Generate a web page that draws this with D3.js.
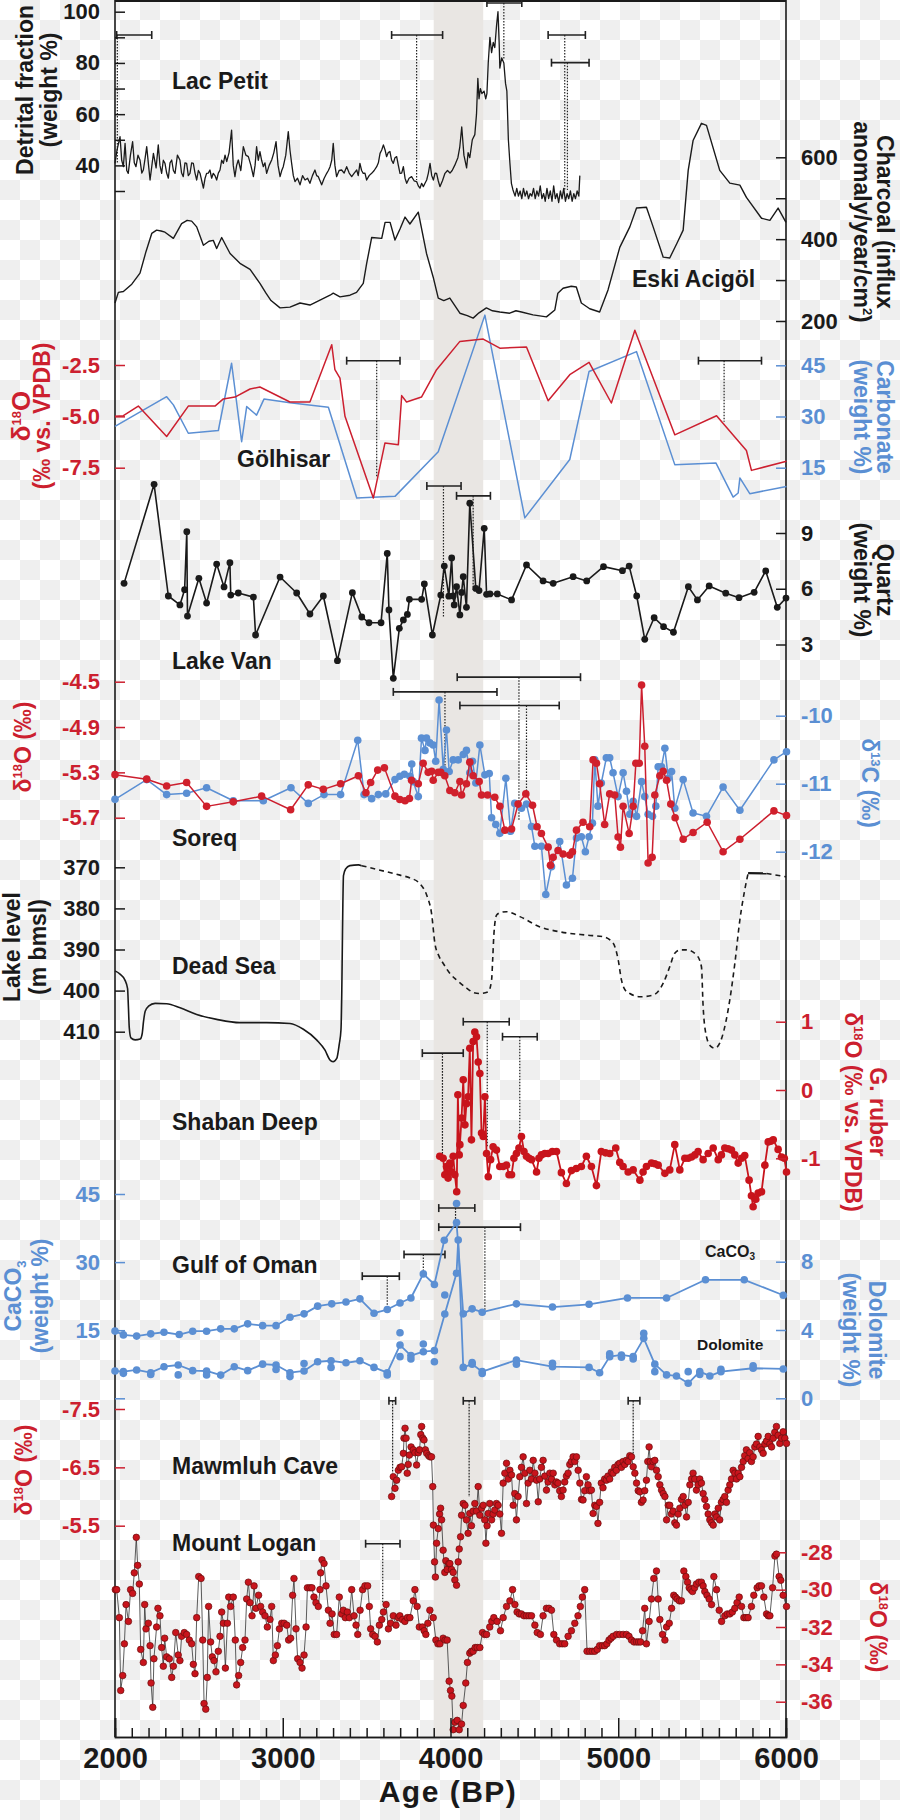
<!DOCTYPE html>
<html>
<head>
<meta charset="utf-8">
<script src="https://cdn.jsdelivr.net/npm/d3@7"></script>
<style>
body { margin: 0; background: #fff; }
svg { display: block; }
</style>
</head>
<body>
<svg id="chart" width="900" height="1820"></svg>
<script>
var FONT = "'Liberation Sans', Arial, Helvetica, sans-serif";
var RED = "#cc1f2f", BLUE = "#5b8fd3", BLACK = "#1a1a1a";
var DOTRED = "#c8141c";

// ---------- data ----------
var ageDomain = [2000, 6000];
var bandYears = [3900, 4195];
var ageTicks = [2000, 3000, 4000, 5000, 6000];

var lacPetit = [[2000,40.8],[2012,46],[2030,51.2],[2040,42],[2050,39.5],[2060,48.6],[2070,38],[2079,36.9],[2092,44],[2105,49.3],[2115,41],[2125,39.5],[2137,44],[2149,42.1],[2160,37],[2169,38.2],[2180,43],[2189,47.3],[2200,40],[2209,34.3],[2220,40],[2229,44.7],[2245,39],[2258,48],[2268,40],[2278,36.9],[2288,42],[2298,40.8],[2308,37],[2318,35],[2328,41],[2338,42.1],[2348,38],[2358,36.9],[2372,44],[2387,42.1],[2397,37],[2407,35.6],[2417,41],[2427,40.8],[2437,36],[2447,36.9],[2457,41],[2467,40.8],[2477,37],[2487,34.3],[2497,38],[2507,36.9],[2517,34],[2527,31.1],[2537,35],[2546,36.9],[2556,37],[2566,38.2],[2576,35],[2586,36.9],[2596,36],[2606,34.3],[2616,37],[2626,38.2],[2636,42],[2646,40.8],[2656,44],[2666,41.5],[2680,45],[2695,53.8],[2705,40],[2715,35.6],[2725,40],[2735,42.1],[2750,38],[2765,47.3],[2780,44],[2795,43.4],[2810,40],[2825,35.6],[2835,40],[2844,47.3],[2854,42],[2864,45.4],[2874,42],[2884,39.5],[2894,41],[2904,36.9],[2919,40],[2934,42.1],[2947,45],[2960,49.3],[2972,40],[2984,35.6],[2994,38],[3003,39.5],[3018,44],[3033,53.2],[3043,46],[3053,40.8],[3063,36],[3073,33.7],[3088,35],[3103,32.4],[3118,36],[3133,34.3],[3148,35],[3162,33],[3177,36],[3192,38.2],[3202,36],[3212,35.6],[3222,34],[3232,32.4],[3247,35],[3262,36.9],[3272,38],[3282,39.5],[3292,42],[3301,48.6],[3311,40],[3321,35.6],[3336,38],[3351,38.2],[3366,37],[3381,39.5],[3396,37],[3411,35.6],[3426,37],[3441,38.2],[3450,36],[3460,40.8],[3470,38],[3480,36.9],[3490,37],[3500,34.3],[3515,36],[3530,36.9],[3545,38],[3560,39.5],[3570,41],[3580,44.7],[3590,46],[3600,48],[3610,46],[3619,43.4],[3629,45],[3639,45.4],[3649,42],[3659,40.8],[3669,43],[3679,43.4],[3689,40],[3699,36.9],[3709,37],[3719,39.5],[3729,35],[3739,33],[3753,35],[3768,35.6],[3783,34],[3798,33.7],[3808,32],[3818,31.1],[3828,33],[3838,31.7],[3848,33],[3858,34.3],[3868,37],[3878,40.8],[3888,36],[3898,34.3],[3908,37],[3917,36.9],[3927,34],[3937,31.7],[3952,34],[3967,36.9],[3982,38],[3997,37],[4010,38],[4025,40],[4044,43],[4055,47],[4067,55],[4080,44],[4096,39],[4105,45],[4115,43],[4130,50],[4145,52],[4155,60],[4163,74],[4170,66],[4178,70],[4187,68],[4200,69],[4210,66],[4217,68],[4225,80],[4235,90],[4245,84],[4255,88],[4264,86],[4275,95],[4283,100],[4290,88],[4294,78],[4305,82],[4318,80],[4328,72],[4336,69],[4345,50],[4354,41],[4363,33],[4372,30.5],[4385,28],[4395,31],[4405,28],[4415,30],[4425,27],[4435,31],[4445,28],[4455,30],[4465,27],[4475,29],[4485,28],[4495,31],[4505,27],[4515,30],[4525,28],[4535,32],[4545,27],[4555,29],[4565,26],[4575,31],[4585,27],[4595,30],[4605,26],[4615,32],[4625,27],[4635,29],[4645,25.5],[4655,30],[4665,27],[4675,31],[4685,26],[4695,29],[4705,27],[4715,30],[4725,26],[4735,29],[4745,27],[4755,30],[4765,28],[4771,36]];

var eskiAcigol = [[2000,244],[2020,270],[2050,272],[2100,290],[2149,317],[2185,370],[2219,414],[2248,422],[2275,420],[2298,417],[2348,402],[2397,438],[2430,446],[2457,444],[2487,430],[2527,385],[2560,395],[2586,397],[2606,377],[2636,404],[2660,385],[2686,365],[2745,341],[2805,326],[2864,292],[2900,268],[2930,250],[2984,232],[3043,234],[3103,244],[3162,239],[3222,251],[3282,263],[3301,268],[3341,259],[3401,263],[3440,270],[3480,292],[3500,340],[3530,404],[3590,402],[3610,441],[3640,441],[3669,398],[3699,425],[3729,454],[3758,437],[3808,466],[3857,365],[3897,307],[3927,256],[3960,250],[3996,256],[4056,219],[4100,213],[4135,207],[4170,220],[4214,232],[4250,225],[4294,222],[4353,219],[4390,225],[4423,222],[4492,215],[4572,210],[4622,227],[4640,268],[4671,280],[4720,285],[4750,283],[4780,244],[4830,230],[4889,222],[4939,276],[5009,380],[5069,430],[5109,476],[5168,478],[5208,430],[5268,356],[5307,354],[5350,390],[5387,422],[5417,568],[5446,641],[5496,683],[5526,678],[5605,568],[5665,537],[5725,532],[5764,502],[5854,451],[5904,446],[5953,476],[6000,441]];

var golhisarO = [[2000,-5.0],[2050,-4.97],[2139,-4.5],[2308,-5.98],[2437,-4.5],[2596,-4.5],[2646,-4.15],[2715,-4.06],[2805,-3.67],[2864,-3.57],[3043,-4.3],[3162,-4.3],[3292,-1.51],[3311,-2.73],[3341,-3.14],[3371,-5.0],[3540,-8.98],[3609,-6.3],[3689,-6.38],[3709,-3.99],[3738,-4.3],[3827,-4.06],[3917,-2.73],[4056,-1.35],[4195,-1.24],[4294,-1.68],[4453,-1.62],[4582,-4.24],[4711,-2.97],[4826,-2.37],[4959,-4.35],[5099,-0.81],[5337,-5.9],[5586,-4.97],[5764,-6.66],[5794,-7.63],[6003,-7.19]];

var golhisarCarb = [[2000,27.1],[2308,35.8],[2348,33.4],[2437,25.1],[2616,25.9],[2695,45.6],[2755,22.6],[2785,32.9],[2844,30.4],[2888,35.1],[3043,34.0],[3272,32.7],[3441,6.1],[3669,6.6],[3927,19.7],[4205,59.7],[4443,0.3],[4711,17.4],[4826,43.2],[5109,49.0],[5337,15.9],[5582,16.4],[5685,6.4],[5715,7.6],[5725,12],[5784,7.4],[6003,9.5]];

var lakeVan = [[2054,6.29],[2233,11.62],[2318,5.61],[2387,5.13],[2415,5.95],[2428,9.07],[2432,4.53],[2500,6.56],[2546,5.23],[2606,7.33],[2650,6.1],[2685,7.4],[2690,5.66],[2735,5.77],[2825,5.55],[2838,3.51],[2984,6.63],[3083,5.77],[3162,4.64],[3242,5.61],[3326,2.13],[3415,5.79],[3471,4.48],[3514,4.17],[3586,4.17],[3623,7.9],[3633,4.86],[3659,1.18],[3695,3.87],[3719,4.32],[3743,4.62],[3755,5.43],[3828,5.43],[3844,6.26],[3892,3.51],[3942,5.66],[3963,7.22],[3990,5.6],[4007,7.66],[4016,5.61],[4022,5.13],[4036,6.11],[4056,4.59],[4066,5.8],[4076,6.65],[4095,5.0],[4115,10.6],[4151,6.02],[4170,5.9],[4201,9.25],[4215,5.7],[4235,5.72],[4279,5.72],[4364,5.4],[4453,7.28],[4552,6.42],[4612,6.29],[4731,6.65],[4812,6.42],[4912,7.19],[5025,6.97],[5065,7.22],[5110,5.61],[5158,3.28],[5214,4.44],[5270,3.96],[5329,3.66],[5418,6.11],[5472,5.4],[5542,6.15],[5641,5.76],[5720,5.52],[5810,5.81],[5879,6.96],[5948,5.0],[6000,5.5]];

var soreqO = [[2000,-5.32],[2189,-5.36],[2308,-5.42],[2427,-5.39],[2546,-5.6],[2705,-5.56],[2874,-5.51],[3047,-5.63],[3152,-5.41],[3242,-5.45],[3345,-5.4],[3451,-5.33],[3496,-5.48],[3524,-5.39],[3566,-5.28],[3606,-5.26],[3669,-5.51],[3698,-5.54],[3729,-5.55],[3755,-5.53],[3768,-5.37],[3808,-5.4],[3837,-5.22],[3867,-5.3],[3888,-5.29],[3897,-5.37],[3927,-5.3],[3942,-5.3],[3966,-5.33],[3996,-5.46],[4026,-5.48],[4056,-5.38],[4066,-5.5],[4095,-5.4],[4115,-5.21],[4135,-5.33],[4171,-5.38],[4185,-5.5],[4221,-5.5],[4264,-5.52],[4294,-5.6],[4324,-5.81],[4364,-5.8],[4403,-5.58],[4449,-5.49],[4489,-5.59],[4516,-5.78],[4542,-5.84],[4582,-5.96],[4596,-6.12],[4612,-6.05],[4641,-5.99],[4671,-6.02],[4711,-6.03],[4727,-6.0],[4751,-5.81],[4790,-5.74],[4830,-5.78],[4850,-5.19],[4870,-5.22],[4889,-5.4],[4919,-5.76],[4949,-5.49],[4979,-5.5],[4999,-5.87],[5013,-5.96],[5029,-5.6],[5065,-5.84],[5089,-5.6],[5105,-5.22],[5125,-5.22],[5139,-4.53],[5158,-5.07],[5178,-6.1],[5202,-6.05],[5218,-5.5],[5248,-5.33],[5268,-5.29],[5288,-5.37],[5313,-5.58],[5339,-5.7],[5387,-5.89],[5446,-5.83],[5530,-5.74],[5625,-6.0],[5725,-5.89],[5928,-5.64],[6003,-5.68]];

var soreqC = [[2000,-11.23],[2189,-10.94],[2308,-11.16],[2427,-11.14],[2546,-11.06],[2705,-11.25],[2884,-11.25],[3049,-11.06],[3152,-11.29],[3246,-11.16],[3345,-11.16],[3447,-10.36],[3485,-11.16],[3530,-11.22],[3570,-11.16],[3614,-11.15],[3669,-10.94],[3698,-10.89],[3725,-10.86],[3758,-10.89],[3769,-10.71],[3778,-10.97],[3808,-11.19],[3827,-10.33],[3848,-10.51],[3857,-10.33],[3877,-10.4],[3897,-10.43],[3912,-10.67],[3932,-9.77],[3957,-10.79],[3976,-10.21],[3992,-10.82],[4016,-10.65],[4046,-10.65],[4076,-10.57],[4095,-10.51],[4115,-10.84],[4131,-10.67],[4151,-10.99],[4175,-10.43],[4205,-10.87],[4231,-10.85],[4245,-11.5],[4270,-11.6],[4294,-11.73],[4330,-10.92],[4358,-11.7],[4383,-11.29],[4423,-11.36],[4453,-11.3],[4483,-11.63],[4503,-11.92],[4542,-11.92],[4568,-12.63],[4602,-12.22],[4651,-11.85],[4691,-12.49],[4727,-12.39],[4751,-11.8],[4780,-11.78],[4804,-12.0],[4826,-11.78],[4846,-11.58],[4860,-10.65],[4879,-11.33],[4899,-10.99],[4929,-10.62],[4949,-10.62],[4969,-10.84],[4999,-11.19],[5029,-10.84],[5049,-11.11],[5069,-11.45],[5089,-11.26],[5109,-11.48],[5139,-10.97],[5158,-11.19],[5178,-11.45],[5204,-11.48],[5224,-11.33],[5238,-10.75],[5258,-10.75],[5278,-10.48],[5298,-10.92],[5318,-10.82],[5337,-11.36],[5387,-10.94],[5446,-11.43],[5526,-11.48],[5625,-11.05],[5725,-11.39],[5928,-10.65],[6003,-10.53]];

var deadSeaSolid = [[2000,395.2],[2030,396],[2060,397.5],[2075,399.5],[2080,404],[2085,409],[2095,411.5],[2120,412],[2150,411.8],[2162,410.5],[2170,407.5],[2180,405],[2200,403.8],[2239,403.1],[2308,403.2],[2388,404.2],[2487,405.8],[2606,407],[2745,407.8],[2904,407.8],[3043,408],[3123,409.4],[3202,412],[3252,414.5],[3280,416.8],[3300,417.3],[3322,416.5],[3337,413],[3347,409.6],[3352,400],[3355,390],[3358,380],[3362,372],[3375,370.4],[3400,369.6],[3451,369.4],[3470,369.6]];
var deadSeaDashed = [[3470,369.6],[3560,370.5],[3699,371.9],[3760,372.6],[3818,374],[3860,377],[3887,381.2],[3907,388.5],[3930,391.5],[3957,393.4],[4000,396],[4036,397.4],[4096,399.4],[4140,400.5],[4175,400.7],[4225,400.3],[4245,397.4],[4252,392],[4259,386.1],[4275,381.6],[4300,381],[4334,380.8],[4414,382],[4533,384.5],[4652,385.7],[4811,386.5],[4910,386.9],[4970,388.5],[5000,392.6],[5019,397.4],[5040,399.8],[5069,400.7],[5129,401.5],[5208,401.1],[5268,398.2],[5307,394.2],[5337,390.9],[5370,390.1],[5407,390.1],[5466,391.3],[5496,394.2],[5506,403.9],[5526,411.2],[5550,413.5],[5576,414],[5605,412.8],[5655,404.7],[5695,393.4],[5725,382.8],[5754,375.5],[5774,371.5]];
var deadSeaFlat = [[5774,371.4],[5884,371.5]];
var deadSeaTail = [[5884,371.5],[6000,372.3]];

var shaban = [[3936,-0.97],[3956,-1.0],[3966,-1.24],[3976,-1.12],[3986,-1.29],[3996,-1.07],[4006,-1.2],[4016,-0.97],[4026,-1.24],[4037,-1.49],[4044,-0.07],[4052,-0.95],[4056,-0.8],[4066,-0.41],[4076,0.15],[4086,-0.51],[4095,-0.2],[4105,-0.1],[4115,0.61],[4125,-0.73],[4135,0.71],[4145,0.85],[4155,0.78],[4165,0.41],[4175,0.24],[4185,-0.63],[4195,-0.68],[4205,-0.1],[4215,-0.93],[4225,-1.27],[4239,-1.02],[4254,-0.83],[4274,-0.88],[4294,-1.12],[4314,-1.12],[4334,-1.1],[4349,-1.24],[4364,-1.24],[4378,-1.0],[4393,-0.93],[4408,-0.85],[4423,-0.68],[4438,-0.9],[4453,-0.97],[4468,-1.0],[4483,-1.02],[4513,-1.2],[4527,-1.0],[4542,-0.95],[4562,-0.93],[4582,-0.93],[4607,-0.9],[4632,-0.9],[4661,-1.21],[4691,-1.37],[4721,-1.18],[4750,-1.15],[4780,-1.12],[4810,-0.97],[4840,-1.12],[4870,-1.4],[4899,-0.9],[4924,-0.92],[4949,-0.93],[4985,-0.85],[5009,-1.06],[5029,-1.12],[5059,-1.2],[5089,-1.17],[5129,-1.32],[5148,-1.2],[5168,-1.12],[5198,-1.07],[5218,-1.08],[5238,-1.1],[5278,-1.22],[5307,-1.17],[5337,-0.8],[5367,-1.17],[5397,-1.0],[5417,-1.0],[5437,-0.98],[5457,-0.95],[5476,-0.9],[5506,-1.02],[5536,-0.93],[5566,-0.85],[5596,-1.02],[5615,-0.95],[5635,-0.85],[5655,-0.86],[5675,-0.88],[5695,-0.95],[5715,-1.07],[5735,-1.0],[5754,-0.96],[5780,-1.32],[5794,-1.55],[5804,-1.71],[5820,-1.6],[5834,-1.51],[5854,-1.49],[5874,-1.1],[5894,-0.76],[5909,-0.75],[5924,-0.73],[5953,-0.87],[5973,-0.98],[5990,-1.0],[6003,-1.2]];

var omanCaCO3 = [[2000,14.8],[2050,13.97],[2129,13.7],[2213,14.2],[2292,14.55],[2383,14.04],[2463,14.78],[2546,14.78],[2630,15.3],[2711,15.3],[2791,16.4],[2880,16.0],[2960,16.0],[3043,17.86],[3127,18.6],[3208,20.3],[3292,20.8],[3377,21.2],[3460,21.9],[3544,18.74],[3623,19.55],[3699,21.0],[3764,22.1],[3838,27.4],[3904,25.07],[3963,34.8],[4036,38.7],[4076,18.6],[4129,19.7],[4189,18.96],[4393,20.8],[4608,20.1],[4826,20.7],[5055,22.1],[5288,22.1],[5520,26.1],[5751,26.1],[5984,22.7]];
var omanCaCO3Extra = [[4036,42.9]];
var omanDolomite = [[2000,1.6],[2050,1.56],[2129,1.66],[2213,1.5],[2292,1.85],[2377,1.95],[2463,1.62],[2546,1.6],[2630,1.36],[2711,1.85],[2791,1.62],[2880,2.0],[2960,1.95],[3043,1.5],[3127,1.6],[3208,2.14],[3288,2.2],[3377,2.08],[3460,2.2],[3544,1.81],[3623,1.5],[3699,3.12],[3764,2.5],[3838,2.73],[3904,2.79],[3966,4.94],[4036,7.32],[4046,9.27],[4076,1.81],[4129,2.0],[4189,1.56],[4393,2.24],[4608,1.85],[4826,1.81],[4889,1.5],[4949,2.44],[5019,2.54],[5089,2.44],[5152,3.51],[5218,2.0],[5288,1.37],[5347,1.31],[5417,0.88],[5486,1.56],[5546,1.31],[5612,1.56],[5804,1.76],[5984,1.72]];
var omanDolomiteExtra = [[2050,1.46],[2213,1.4],[2377,1.37],[2546,1.37],[2960,1.69],[3043,1.27],[3127,2.04],[3288,1.81],[3623,1.37],[3699,2.44],[3699,3.84],[3764,2.3],[3838,3.18],[3904,2.14],[3966,6.05],[4129,2.1],[4189,1.45],[4393,2.0],[4608,2.05],[4949,2.6],[5019,2.4],[5089,2.3],[5152,3.8],[5218,1.56],[5417,1.56],[5486,1.4],[5612,1.7],[5804,1.9]];

var mawmluh = [[3649,-6.0],[3659,-6.34],[3669,-6.14],[3679,-6.28],[3689,-6.45],[3699,-6.5],[3709,-6.51],[3719,-6.74],[3723,-7.0],[3729,-7.17],[3735,-7.0],[3742,-6.4],[3748,-6.55],[3755,-6.71],[3765,-6.85],[3778,-6.8],[3788,-6.75],[3798,-6.54],[3808,-6.75],[3815,-6.8],[3823,-7.06],[3828,-7.2],[3835,-7.0],[3842,-6.97],[3850,-6.8],[3858,-6.74],[3870,-6.7],[3878,-6.68],[3887,-6.68],[3894,-6.17],[3898,-5.51],[3905,-4.88],[3910,-4.62],[3917,-5.2],[3927,-5.45],[3935,-5.7],[3941,-5.8],[3947,-5.6],[3956,-5.08],[3966,-4.7],[3972,-4.9],[3980,-4.75],[3990,-4.85],[3996,-4.85],[4006,-4.75],[4016,-4.7],[4026,-4.57],[4036,-4.48],[4046,-4.88],[4052,-5.1],[4060,-5.31],[4066,-5.68],[4076,-5.88],[4086,-5.85],[4095,-5.6],[4105,-5.37],[4115,-5.71],[4125,-5.5],[4135,-5.75],[4145,-5.88],[4155,-5.75],[4165,-6.17],[4175,-5.68],[4185,-5.8],[4195,-5.85],[4204,-5.6],[4211,-5.2],[4218,-5.5],[4225,-5.71],[4234,-5.88],[4245,-5.6],[4254,-5.7],[4264,-5.77],[4274,-5.88],[4284,-5.85],[4294,-5.7],[4304,-5.37],[4314,-6.23],[4324,-6.4],[4334,-6.57],[4344,-6.3],[4354,-6.45],[4364,-6.37],[4374,-5.85],[4383,-6.05],[4393,-5.6],[4403,-6.0],[4413,-6.34],[4423,-6.5],[4433,-6.68],[4443,-6.4],[4453,-5.88],[4463,-6.23],[4473,-6.45],[4483,-6.3],[4493,-6.62],[4503,-6.4],[4513,-6.28],[4523,-5.91],[4532,-6.3],[4542,-6.5],[4552,-6.62],[4562,-6.35],[4572,-6.11],[4582,-6.25],[4592,-6.4],[4602,-6.3],[4612,-6.4],[4622,-6.2],[4631,-6.25],[4641,-6.23],[4651,-6.1],[4661,-6.0],[4671,-6.11],[4681,-6.25],[4691,-6.35],[4701,-6.4],[4711,-6.55],[4721,-6.6],[4731,-6.68],[4741,-6.6],[4751,-6.68],[4761,-6.45],[4771,-6.23],[4781,-5.95],[4790,-5.94],[4800,-6.1],[4810,-6.34],[4820,-6.2],[4830,-6.1],[4840,-6.11],[4850,-5.71],[4860,-5.85],[4870,-5.83],[4879,-5.54],[4889,-5.9],[4899,-6.23],[4909,-6.15],[4919,-6.3],[4929,-6.28],[4939,-6.35],[4949,-6.3],[4959,-6.42],[4969,-6.4],[4979,-6.5],[4989,-6.45],[4999,-6.55],[5009,-6.57],[5019,-6.5],[5029,-6.6],[5039,-6.55],[5049,-6.62],[5059,-6.6],[5069,-6.7],[5079,-6.68],[5089,-6.51],[5099,-6.4],[5109,-6.23],[5119,-6.1],[5129,-6.08],[5138,-5.9],[5148,-5.94],[5158,-6.1],[5168,-6.28],[5176,-6.6],[5184,-6.85],[5191,-6.6],[5198,-6.51],[5208,-6.6],[5218,-6.62],[5228,-6.45],[5238,-6.34],[5248,-6.2],[5258,-6.11],[5268,-6.05],[5278,-6.0],[5288,-5.6],[5298,-5.85],[5307,-5.85],[5317,-5.7],[5327,-5.75],[5337,-5.55],[5347,-5.51],[5357,-5.7],[5367,-5.8],[5377,-5.95],[5387,-6.0],[5397,-5.85],[5407,-5.65],[5417,-5.9],[5427,-6.2],[5437,-6.3],[5446,-6.4],[5456,-6.3],[5466,-6.11],[5476,-6.2],[5486,-6.3],[5496,-6.23],[5506,-6.05],[5516,-5.95],[5526,-5.83],[5536,-5.7],[5546,-5.6],[5556,-5.55],[5566,-5.51],[5576,-5.7],[5586,-5.65],[5596,-5.8],[5605,-5.6],[5615,-5.9],[5625,-5.95],[5635,-6.0],[5645,-5.9],[5655,-6.11],[5665,-6.2],[5675,-6.3],[5685,-6.45],[5695,-6.4],[5705,-6.3],[5715,-6.4],[5725,-6.34],[5735,-6.5],[5745,-6.6],[5754,-6.7],[5764,-6.8],[5774,-6.65],[5784,-6.75],[5794,-6.6],[5804,-6.68],[5814,-6.85],[5824,-6.9],[5834,-7.03],[5844,-6.85],[5854,-6.8],[5864,-6.74],[5874,-6.9],[5884,-6.95],[5894,-7.03],[5904,-6.9],[5914,-6.85],[5924,-7.0],[5933,-7.1],[5943,-7.2],[5953,-7.05],[5963,-6.91],[5973,-7.0],[5983,-7.11],[5993,-7.0],[6003,-6.91]];

var mountLogan = [[2002,-30.0],[2010,-30.0],[2026,-31.5],[2034,-35.4],[2046,-34.6],[2056,-32.9],[2066,-30.8],[2080,-31.7],[2093,-30.0],[2105,-30.2],[2115,-29.1],[2127,-27.2],[2135,-28.7],[2145,-29.7],[2153,-33.2],[2169,-33.9],[2177,-30.8],[2185,-32.1],[2199,-31.8],[2209,-33.0],[2215,-35.0],[2225,-36.3],[2232,-33.7],[2248,-32.0],[2256,-31.0],[2268,-31.4],[2278,-33.1],[2288,-34.1],[2296,-32.6],[2308,-33.6],[2324,-33.7],[2338,-34.7],[2348,-34.1],[2362,-32.3],[2377,-33.5],[2387,-33.8],[2397,-32.5],[2413,-32.3],[2427,-32.4],[2443,-32.7],[2457,-32.9],[2467,-34.0],[2477,-34.5],[2487,-31.5],[2499,-29.3],[2513,-29.4],[2523,-32.7],[2531,-36.1],[2541,-36.4],[2550,-34.7],[2558,-30.9],[2570,-32.8],[2580,-33.6],[2590,-33.8],[2602,-34.4],[2616,-33.3],[2626,-32.5],[2636,-31.2],[2646,-31.8],[2658,-34.2],[2670,-31.8],[2678,-30.4],[2689,-30.9],[2705,-30.4],[2717,-32.7],[2725,-35.1],[2737,-34.6],[2749,-33.9],[2761,-33.1],[2775,-32.7],[2785,-30.5],[2795,-29.6],[2805,-30.7],[2817,-31.4],[2829,-29.8],[2840,-31.0],[2856,-30.3],[2868,-30.9],[2880,-31.2],[2894,-31.4],[2908,-32.0],[2924,-31.6],[2934,-30.9],[2944,-33.8],[2956,-33.5],[2968,-33.0],[2980,-32.1],[2994,-31.8],[3008,-31.8],[3024,-31.9],[3035,-32.7],[3047,-32.6],[3059,-30.3],[3067,-29.4],[3079,-32.1],[3089,-33.7],[3103,-33.9],[3115,-34.2],[3127,-33.5],[3139,-32.0],[3147,-29.9],[3162,-29.9],[3174,-29.9],[3186,-30.4],[3198,-30.7],[3212,-30.9],[3222,-30.0],[3226,-29.1],[3234,-28.4],[3246,-28.6],[3258,-29.8],[3272,-31.1],[3282,-31.8],[3294,-31.3],[3307,-32.4],[3321,-32.4],[3337,-30.4],[3351,-31.3],[3361,-31.1],[3373,-31.5],[3385,-31.2],[3397,-31.5],[3411,-30.0],[3425,-31.4],[3437,-31.9],[3447,-32.4],[3461,-31.1],[3476,-30.0],[3490,-29.8],[3506,-29.8],[3516,-30.9],[3524,-32.1],[3536,-32.4],[3550,-32.5],[3564,-32.8],[3576,-31.9],[3590,-31.6],[3600,-31.2],[3616,-30.8],[3630,-32.1],[3643,-31.8],[3659,-31.4],[3675,-31.9],[3689,-31.5],[3698,-31.4],[3713,-31.6],[3728,-31.7],[3743,-31.5],[3758,-31.5],[3778,-30.6],[3788,-30.0],[3801,-30.9],[3814,-32.0],[3833,-32.0],[3843,-32.2],[3853,-32.4],[3865,-31.8],[3877,-31.1],[3897,-31.5],[3913,-32.7],[3925,-32.9],[3937,-32.9],[3956,-32.6],[3968,-32.7],[3980,-32.7],[3992,-34.9],[4000,-35.4],[4008,-35.7],[4016,-37.5],[4026,-37.1],[4040,-37.0],[4052,-37.5],[4066,-37.2],[4076,-36.2],[4091,-35.0],[4101,-33.9],[4115,-33.4],[4125,-33.3],[4135,-33.3],[4147,-33.1],[4159,-33.1],[4175,-33.1],[4191,-32.3],[4203,-32.4],[4215,-32.4],[4234,-32.0],[4246,-31.7],[4258,-31.5],[4278,-31.7],[4298,-32.2],[4314,-31.5],[4334,-30.9],[4354,-30.6],[4370,-30.0],[4384,-30.8],[4397,-31.2],[4410,-31.3],[4423,-31.3],[4438,-31.4],[4453,-31.4],[4468,-31.4],[4483,-31.4],[4503,-31.9],[4517,-32.3],[4536,-32.4],[4552,-31.4],[4572,-31.0],[4587,-31.0],[4602,-31.1],[4616,-32.4],[4632,-32.7],[4651,-32.9],[4666,-32.9],[4681,-32.9],[4701,-32.5],[4721,-32.2],[4741,-31.8],[4760,-31.4],[4774,-30.9],[4786,-30.4],[4800,-30.0],[4814,-33.3],[4830,-33.3],[4845,-33.3],[4860,-33.3],[4875,-33.2],[4889,-33.0],[4905,-33.0],[4919,-33.0],[4932,-32.9],[4945,-32.7],[4957,-32.6],[4969,-32.5],[4990,-32.4],[5009,-32.4],[5029,-32.4],[5049,-32.4],[5064,-32.5],[5079,-32.7],[5094,-32.8],[5109,-32.8],[5121,-32.8],[5133,-32.8],[5145,-32.2],[5158,-31.0],[5168,-32.9],[5184,-31.7],[5198,-30.5],[5212,-29.4],[5228,-29.0],[5238,-30.5],[5248,-31.6],[5264,-32.4],[5278,-32.7],[5288,-32.0],[5304,-31.8],[5318,-31.0],[5331,-30.3],[5341,-30.4],[5351,-30.5],[5364,-30.6],[5377,-30.6],[5391,-29.0],[5403,-29.3],[5413,-29.6],[5423,-29.9],[5433,-30.0],[5443,-30.1],[5455,-29.9],[5466,-29.7],[5481,-29.6],[5496,-29.6],[5506,-29.8],[5516,-30.1],[5529,-30.3],[5542,-30.5],[5556,-30.8],[5570,-29.3],[5586,-30.0],[5602,-31.1],[5616,-31.7],[5635,-31.4],[5650,-31.3],[5665,-31.3],[5680,-31.2],[5695,-31.0],[5708,-30.7],[5721,-30.4],[5735,-30.9],[5749,-31.5],[5762,-31.5],[5774,-31.5],[5794,-30.9],[5808,-30.3],[5828,-29.9],[5840,-29.8],[5854,-29.8],[5868,-30.4],[5884,-31.3],[5894,-31.4],[5904,-31.4],[5920,-29.9],[5934,-28.2],[5943,-28.1],[5959,-29.3],[5969,-29.5],[5983,-30.3],[6003,-30.9]];

// age error bars: [young, centre, old, bar level, dotted line end] in panel units
var lacPetitErr = [[2010,2014,2219,90.9,40.9],[3649,3798,3953,90.9,34.3],[4217,4318,4425,103.4,81.2],[4582,4681,4804,90.9,30.4],[4602,4697,4826,80.1,30.4]];
var golhisarErr = [[3381,3560,3699,-2.29,-7.94],[5478,5631,5854,-2.29,-5.26]];
var lakeVanErr = [[3859,3958,4063,11.53,4.48],[4036,4135,4238,11.0,5.93]];
var soreqErr = [[3659,3967,4277,-4.59,-5.28],[4040,4408,4775,-4.46,-5.72],[4056,4453,4648,-4.71,-5.48]];
var shabanErr = [[3832,3952,4076,0.54,-0.98],[4076,4219,4350,1.0,-0.83],[4310,4413,4517,0.78,-0.69]];
var omanErr = [[3474,3623,3695,26.9,19.8],[3723,3838,3967,31.7,27.5],[3930,4030,4145,41.9,38.8],[3930,4205,4417,37.7,19.0]];
var mawmluhErr = [[3633,3655,3673,-7.64,-6.4],[4076,4111,4145,-7.64,-5.99],[5059,5089,5129,-7.64,-6.68]];
var loganErr = [[3494,3596,3699,-27.54,-30.7]];

// ---------- scales ----------
var x = d3.scaleLinear().domain(ageDomain).range([115, 786]);
var yLac = d3.scaleLinear().domain([30, 100]).range([191, 11.7]);
var yChar = d3.scaleLinear().domain([200, 600]).range([321, 157.3]);
var yGolO = d3.scaleLinear().domain([-7.5, -2.5]).range([467.7, 365]);
var yGolC = d3.scaleLinear().domain([15, 45]).range([467.7, 365.3]);
var yVan = d3.scaleLinear().domain([3, 9]).range([644.5, 533]);
var ySorO = d3.scaleLinear().domain([-5.7, -4.5]).range([817.7, 681.7]);
var ySorC = d3.scaleLinear().domain([-12, -10]).range([851.7, 715.7]);
var yDead = d3.scaleLinear().domain([370, 410]).range([867.3, 1031.7]);
var yShab = d3.scaleLinear().domain([-1, 1]).range([1158.3, 1021.7]);
var yOmanC = d3.scaleLinear().domain([0, 45]).range([1398.3, 1194]);
var yOmanD = d3.scaleLinear().domain([0, 8]).range([1398.3, 1261.7]);
var yMaw = d3.scaleLinear().domain([-7.5, -5.5]).range([1409, 1525.7]);
var yLog = d3.scaleLinear().domain([-36, -28]).range([1701.7, 1552.3]);

var svg = d3.select("#chart").attr("font-family", FONT).attr("font-weight", "bold");

// transparent-look checker background
var pat = svg.append("defs").append("pattern").attr("id", "checker")
  .attr("width", 40).attr("height", 40).attr("patternUnits", "userSpaceOnUse");
pat.append("rect").attr("width", 40).attr("height", 40).attr("fill", "#ffffff");
pat.append("rect").attr("x", 20).attr("width", 20).attr("height", 20).attr("fill", "#efefef");
pat.append("rect").attr("y", 20).attr("width", 20).attr("height", 20).attr("fill", "#efefef");
svg.append("rect").attr("width", 900).attr("height", 1820).attr("fill", "url(#checker)");

// 4.2 ka band
svg.append("rect")
  .attr("x", x(bandYears[0])).attr("y", 0)
  .attr("width", x(bandYears[1]) - x(bandYears[0])).attr("height", 1737)
  .attr("fill", "#e9e6e3");

// ---------- helpers ----------
var drawLine = function(data, y, color, width, dash, curve) {
  var gen = d3.line().x(function(d) { return x(d[0]); }).y(function(d) { return y(d[1]); });
  if (curve) gen.curve(curve);
  svg.append("path").datum(data)
    .attr("d", gen).attr("fill", "none")
    .attr("stroke", color).attr("stroke-width", width)
    .attr("stroke-linejoin", "round")
    .attr("stroke-dasharray", dash || null);
};

var drawDots = function(data, y, fill, r, stroke) {
  svg.append("g").selectAll("circle").data(data).enter().append("circle")
    .attr("cx", function(d) { return x(d[0]); })
    .attr("cy", function(d) { return y(d[1]); })
    .attr("r", r).attr("fill", fill)
    .attr("stroke", stroke || "none").attr("stroke-width", stroke ? 0.7 : 0);
};

var yAxis = function(side, y, ticks, labels, color) {
  var ax = (side === "left" ? d3.axisLeft(y) : d3.axisRight(y))
    .tickValues(ticks).tickSize(-10).tickPadding(15)
    .tickFormat(function(d, i) { return labels[i]; });
  var g = svg.append("g")
    .attr("transform", "translate(" + (side === "left" ? 115 : 786) + ",0)")
    .call(ax);
  g.select(".domain").remove();
  g.selectAll("line").attr("stroke", color).attr("stroke-width", 1.5);
  g.selectAll("text").attr("fill", color).attr("font-size", 22)
    .attr("font-family", FONT).attr("font-weight", "bold");
};

var errorBars = function(bars, y) {
  var g = svg.append("g").attr("stroke", "#222");
  bars.forEach(function(b) {
    var yb = y(b[3]);
    g.append("line").attr("x1", x(b[1])).attr("x2", x(b[1]))
      .attr("y1", yb).attr("y2", y(b[4]))
      .attr("stroke-width", 1.2).attr("stroke-dasharray", "1.6,1.4");
    g.append("line").attr("x1", x(b[0])).attr("x2", x(b[2]))
      .attr("y1", yb).attr("y2", yb).attr("stroke-width", 1.6);
    [b[0], b[2]].forEach(function(e) {
      g.append("line").attr("x1", x(e)).attr("x2", x(e))
        .attr("y1", yb - 4).attr("y2", yb + 4).attr("stroke-width", 1.6);
    });
  });
};

// rotated label; parts = [[text, "sup"|"sub"|""], ...]
var vLabel = function(x0, cy, rot, color, parts, size) {
  var t = svg.append("text")
    .attr("transform", "translate(" + x0 + "," + cy + ") rotate(" + rot + ")")
    .attr("text-anchor", "middle").attr("fill", color)
    .attr("font-size", size || 23);
  var shift = 0;
  parts.forEach(function(p) {
    var s = t.append("tspan").text(p[0]);
    var target = p[1] === "sup" ? -9 : (p[1] === "sub" ? 5 : 0);
    if (target !== shift) s.attr("dy", target - shift);
    if (p[1]) s.attr("font-size", 13);
    shift = target;
  });
  return t;
};

var panelLabel = function(txt, px, py, size) {
  return svg.append("text").attr("x", px).attr("y", py)
    .attr("fill", BLACK).attr("font-size", size || 23).text(txt);
};

// ---------- frame ----------
svg.append("line").attr("x1", 115).attr("x2", 786).attr("y1", 1).attr("y2", 1)
  .attr("stroke", BLACK).attr("stroke-width", 2.2);
[115, 786].forEach(function(xx) {
  svg.append("line").attr("x1", xx).attr("x2", xx).attr("y1", 0).attr("y2", 1737)
    .attr("stroke", BLACK).attr("stroke-width", 1.6);
});

// ---------- panels ----------
// Lac Petit
drawLine(lacPetit, yLac, BLACK, 1.3);
errorBars(lacPetitErr, yLac);
yAxis("left", yLac, [30, 40, 50, 60, 70, 80, 90, 100], ["", "40", "", "60", "", "80", "", "100"], BLACK);
panelLabel("Lac Petit", 172, 89);
vLabel(33, 90, -90, BLACK, [["Detrital fraction", ""]]);
vLabel(57, 90, -90, BLACK, [["(weight %)", ""]]);

// Eski Acigol
drawLine(eskiAcigol, yChar, BLACK, 1.4);
yAxis("right", yChar, [200, 300, 400, 500, 600], ["200", "", "400", "", "600"], BLACK);
panelLabel("Eski Acigöl", 632, 287);
vLabel(877, 222, 90, BLACK, [["Charcoal (influx", ""]]);
vLabel(854, 222, 90, BLACK, [["anomaly/year/cm", ""], ["2", "sup"], [")", ""]]);

// Golhisar
drawLine(golhisarCarb, yGolC, BLUE, 1.5);
drawLine(golhisarO, yGolO, RED, 1.5);
errorBars(golhisarErr, yGolO);
yAxis("left", yGolO, [-2.5, -5, -7.5], ["-2.5", "-5.0", "-7.5"], RED);
yAxis("right", yGolC, [45, 30, 15], ["45", "30", "15"], BLUE);
panelLabel("Gölhisar", 237, 467);
vLabel(30, 416, -90, RED, [["δ", ""], ["18", "sup"], ["O", ""]], 26);
vLabel(50, 416, -90, RED, [["(‰ vs. VPDB)", ""]]);
vLabel(877, 417, 90, BLUE, [["Carbonate", ""]]);
vLabel(854, 417, 90, BLUE, [["(weight %)", ""]]);

// Lake Van
errorBars(lakeVanErr, yVan);
drawLine(lakeVan, yVan, BLACK, 1.6);
drawDots(lakeVan, yVan, BLACK, 3.4);
yAxis("right", yVan, [3, 6, 9], ["3", "6", "9"], BLACK);
panelLabel("Lake Van", 172, 669);
vLabel(877, 580, 90, BLACK, [["Quartz", ""]]);
vLabel(854, 580, 90, BLACK, [["(weight %)", ""]]);

// Soreq
errorBars(soreqErr, ySorO);
drawLine(soreqC, ySorC, BLUE, 1.5);
drawDots(soreqC, ySorC, BLUE, 3.8);
drawLine(soreqO, ySorO, RED, 1.5);
drawDots(soreqO, ySorO, "#d0202c", 3.8);
yAxis("left", ySorO, [-4.5, -4.9, -5.3, -5.7], ["-4.5", "-4.9", "-5.3", "-5.7"], RED);
yAxis("right", ySorC, [-10, -11, -12], ["-10", "-11", "-12"], BLUE);
panelLabel("Soreq", 172, 846);
vLabel(31, 747, -90, RED, [["δ", ""], ["18", "sup"], ["O (‰)", ""]]);
vLabel(862, 783, 90, BLUE, [["δ", ""], ["13", "sup"], ["C (‰)", ""]]);

// Dead Sea
drawLine(deadSeaSolid, yDead, BLACK, 1.6, null, d3.curveMonotoneX);
drawLine(deadSeaDashed, yDead, BLACK, 1.6, "5,4", d3.curveMonotoneX);
drawLine(deadSeaFlat, yDead, BLACK, 2.2);
drawLine(deadSeaTail, yDead, BLACK, 1.6, "5,4");
yAxis("left", yDead, [370, 380, 390, 400, 410], ["370", "380", "390", "400", "410"], BLACK);
panelLabel("Dead Sea", 172, 974);
vLabel(20, 947, -90, BLACK, [["Lake level", ""]]);
vLabel(46, 947, -90, BLACK, [["(m bmsl)", ""]]);

// Shaban Deep
errorBars(shabanErr, yShab);
drawLine(shaban, yShab, "#c8141c", 1.8);
drawDots(shaban, yShab, "#c8141c", 3.8);
yAxis("right", yShab, [1, 0, -1], ["1", "0", "-1"], RED);
panelLabel("Shaban Deep", 172, 1130);
vLabel(870, 1112, 90, RED, [["G. ruber", ""]]);
vLabel(845, 1112, 90, RED, [["δ", ""], ["18", "sup"], ["O (‰ vs. VPDB)", ""]]);

// Gulf of Oman
errorBars(omanErr, yOmanC);
drawLine(omanCaCO3, yOmanC, BLUE, 1.8);
drawDots(omanCaCO3, yOmanC, BLUE, 3.8);
drawDots(omanCaCO3Extra, yOmanC, BLUE, 3.8);
drawLine(omanDolomite, yOmanD, BLUE, 1.8);
drawDots(omanDolomite, yOmanD, BLUE, 3.8);
drawDots(omanDolomiteExtra, yOmanD, BLUE, 3.8);
yAxis("left", yOmanC, [0, 15, 30, 45], ["", "15", "30", "45"], BLUE);
yAxis("right", yOmanD, [0, 4, 8], ["0", "4", "8"], BLUE);
panelLabel("Gulf of Oman", 172, 1273);
var cacoNote = svg.append("text").attr("x", 705).attr("y", 1257).attr("fill", BLACK)
  .attr("font-size", 16).attr("font-weight", 600);
cacoNote.append("tspan").text("CaCO");
cacoNote.append("tspan").text("3").attr("font-size", 10).attr("dy", 3);
svg.append("text").attr("x", 697).attr("y", 1350).attr("fill", BLACK)
  .attr("font-size", 15.5).attr("font-weight", 600).text("Dolomite");
vLabel(21, 1296, -90, BLUE, [["CaCO", ""], ["3", "sub"]]);
vLabel(48, 1296, -90, BLUE, [["(weight %)", ""]]);
vLabel(869, 1330, 90, BLUE, [["Dolomite", ""]]);
vLabel(843, 1330, 90, BLUE, [["(weight %)", ""]]);

// Mawmluh Cave
errorBars(mawmluhErr, yMaw);
drawLine(mawmluh, yMaw, "#333", 0.8);
drawDots(mawmluh, yMaw, DOTRED, 3.3, "#6a0e0e");
yAxis("left", yMaw, [-7.5, -6.5, -5.5], ["-7.5", "-6.5", "-5.5"], RED);
panelLabel("Mawmluh Cave", 172, 1474);
vLabel(32, 1470, -90, RED, [["δ", ""], ["18", "sup"], ["O (‰)", ""]]);

// Mount Logan
errorBars(loganErr, yLog);
drawLine(mountLogan, yLog, "#333", 0.8);
drawDots(mountLogan, yLog, DOTRED, 3.3, "#6a0e0e");
yAxis("right", yLog, [-28, -30, -32, -34, -36], ["-28", "-30", "-32", "-34", "-36"], RED);
panelLabel("Mount Logan", 172, 1551);
vLabel(870, 1627, 90, RED, [["δ", ""], ["18", "sup"], ["O (‰)", ""]]);

// ---------- age axis ----------
var minorTicks = d3.range(2100, 6000, 100).filter(function(d) { return d % 1000 !== 0; });
var gMinor = svg.append("g").attr("transform", "translate(0,1737)")
  .call(d3.axisBottom(x).tickValues(minorTicks).tickSize(-9).tickFormat(""));
var gMajor = svg.append("g").attr("transform", "translate(0,1737)")
  .call(d3.axisBottom(x).tickValues(ageTicks).tickSize(-19).tickPadding(10).tickFormat(d3.format("d")));
[gMinor, gMajor].forEach(function(g) {
  g.select(".domain").attr("stroke", BLACK).attr("stroke-width", 1.6);
  g.selectAll("line").attr("stroke", BLACK).attr("stroke-width", 1.5);
});
gMajor.selectAll("text").attr("fill", BLACK).attr("font-size", 29)
  .attr("font-family", FONT).attr("font-weight", "bold");

svg.append("text").attr("x", 448).attr("y", 1802).attr("text-anchor", "middle")
  .attr("fill", BLACK).attr("font-size", 30).attr("letter-spacing", 1.5)
  .text("Age (BP)");
</script>
</body>
</html>
